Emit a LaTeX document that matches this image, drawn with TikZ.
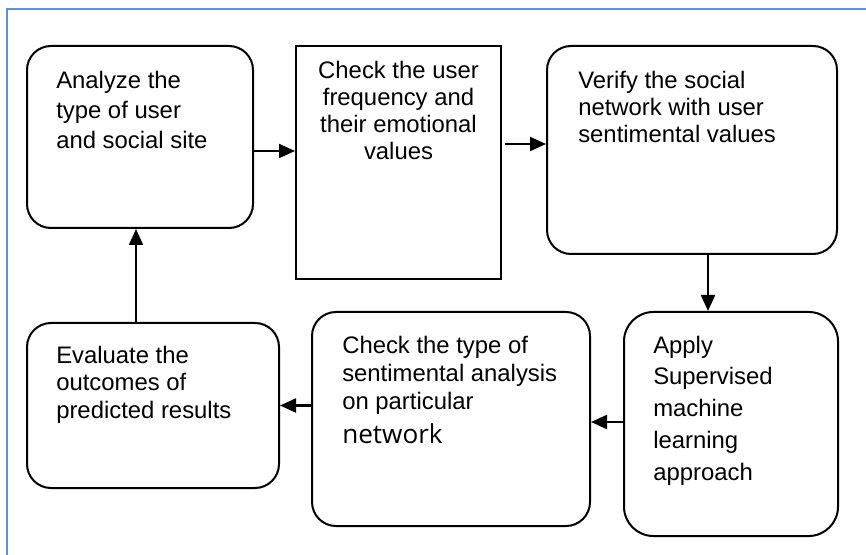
\documentclass[tikz,border=0pt]{standalone}
\usepackage{fontspec}
\setmainfont{Liberation Sans}
\newfontfamily\netfont{Open Sans}
\usetikzlibrary{arrows.meta,fit,calc}

\definecolor{framecol}{HTML}{5E92D8}

\tikzset{
  boxbase/.style={draw=black, line width=1.5pt, inner sep=0pt, fill=none},
  rbox/.style={boxbase, rounded corners=18pt},
  sbox/.style={boxbase},
  arr/.style={line width=1.6pt, -{Triangle[length=12pt,width=10.5pt]}},
  txt/.style={inner sep=0pt, align=left, anchor=base west,
              font=\fontsize{17.9}{21}\selectfont},
}

\begin{document}
\begin{tikzpicture}[x=0.75pt,y=-0.75pt]
  \useasboundingbox (0,0) rectangle (866,555);

  % outer frame (its right and bottom sides fall outside the page)
  \draw[framecol, line width=1.6pt] (866,9) -- (7,9) -- (7,555);

  % process boxes
  \node[rbox, fit={(27,46) (253,228)}]  (b1) {};
  \node[sbox, fit={(296,46) (501,279)}] (b2) {};
  \node[rbox, fit={(547,46) (837,254)}] (b3) {};
  \node[rbox, rounded corners=22pt, fit={(624,312) (838,536)}] (b4) {};
  \node[rbox, fit={(312,312) (590,526)}] (b5) {};
  \node[rbox, fit={(27,323) (279,488)}] (b6) {};

  % box texts (each placed by the baseline of its last line)
  \node[txt, font=\fontsize{17.9}{22.8}\selectfont] (t1) at (56,149)
    {Analyze the\\type of user\\and social site};
  \node[txt, align=center, anchor=base, font=\fontsize{17.9}{20.3}\selectfont] (t2) at (398.5,160)
    {Check the user\\frequency and\\their emotional\\values};
  \node[txt, font=\fontsize{17.9}{20.6}\selectfont] (t3) at (578,143)
    {Verify the social\\network with user\\sentimental values};
  \node[txt, font=\fontsize{17.9}{23.8}\selectfont] (t4) at (653,480)
    {Apply\\Supervised\\machine\\learning\\approach};
  \node[txt, font=\fontsize{17.9}{21.3}\selectfont] (t5) at (342,443)
    {Check the type of\\sentimental analysis\\on particular\\[3.5pt]{\netfont\fontsize{19.6}{21.3}\selectfont network}};
  \node[txt, font=\fontsize{17.9}{20.6}\selectfont] (t6) at (56,418)
    {Evaluate the\\outcomes of\\predicted results};

  % connector end points
  \coordinate (a1s) at ($(b1.east)+(0,14)$);
  \coordinate (a1e) at (a1s -| b2.west);
  \coordinate (a2e) at ($(b3.west)+(0,-6)$);
  \coordinate (a2s) at (a2e -| b2.east);
  \coordinate (a3s) at ($(b3.south)+(16,0)$);
  \coordinate (a3e) at (a3s |- b4.north);
  \coordinate (a4s) at (b4.west |- 0,422);
  \coordinate (a4e) at (b5.east |- 0,422);
  \coordinate (a6s) at ($(b6.north)+(-17,0)$);
  \coordinate (a6e) at (a6s |- b1.south);

  % connectors
  \draw[arr] (a1s) -- (a1e);
  \draw[arr] ([xshift=2.25pt]a2s) -- (a2e);
  \draw[arr] (a3s) -- (a3e);
  \draw[arr] (a4s) -- (a4e);
  \draw[arr] (b5.west |- b6.east) -- (b6.east);
  \draw[arr] (a6s) -- (a6e);
\end{tikzpicture}
\end{document}
